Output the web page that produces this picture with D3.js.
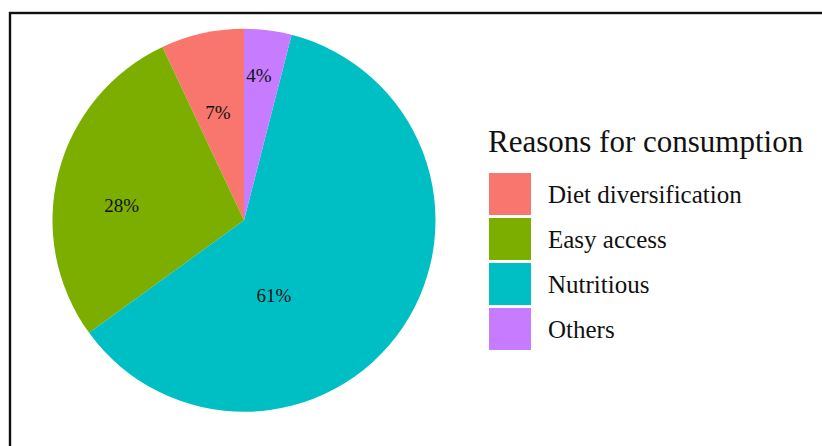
<!DOCTYPE html>
<html>
<head>
<meta charset="utf-8">
<script src="https://cdn.jsdelivr.net/npm/d3@7"></script>
<style>
  html, body { margin: 0; padding: 0; background: #fff; }
  svg { display: block; }
</style>
</head>
<body>
<svg id="chart" width="822" height="446"></svg>
<script>
// ---- data ----
const categories = ["Diet diversification", "Easy access", "Nutritious", "Others"];
const shares = [7, 28, 61, 4];
const shareLabels = ["7%", "28%", "61%", "4%"];
const legendTitle = "Reasons for consumption";
const colors = ["#F8766D", "#7CAE00", "#00BFC4", "#C77CFF"];

// ---- layout (not data) ----
const W = 822, H = 446;
const cx = 244, cy = 220.3, R = 191.5;
// label placement in polar form: angle (deg, clockwise from top), radius as fraction of R
const labelPolar = [
  { a: 346.4, f: 0.577 },
  { a: 276.7, f: 0.643 },
  { a: 158.25, f: 0.423 },
  { a: 5.93, f: 0.758 }
];
const serif = "'Liberation Serif', 'Times New Roman', serif";

const svg = d3.select("#chart");
svg.append("rect").attr("x", 0).attr("y", 0).attr("width", W).attr("height", H).attr("fill", "#fff");

// frame
svg.append("rect")
  .attr("x", 10).attr("y", 13).attr("width", 900).attr("height", 600)
  .attr("fill", "none").attr("stroke", "#111").attr("stroke-width", 2.4);

const color = d3.scaleOrdinal().domain(categories).range(colors);

const data = categories.map((c, i) => ({ cat: c, value: shares[i], label: shareLabels[i], idx: i }));

// pie: counterclockwise from top in legend order
const pie = d3.pie().sort(null).value(d => d.value).startAngle(0).endAngle(-2 * Math.PI);
const arc = d3.arc().innerRadius(0).outerRadius(R);

const g = svg.append("g").attr("transform", `translate(${cx},${cy})`);
g.selectAll("path.slice")
  .data(pie(data))
  .join("path")
  .attr("class", "slice")
  .attr("d", arc)
  .attr("fill", d => color(d.data.cat))
  .attr("stroke", "none");

// percentage labels
g.selectAll("text.pct")
  .data(data)
  .join("text")
  .attr("class", "pct")
  .attr("x", d => Math.sin(labelPolar[d.idx].a * Math.PI / 180) * labelPolar[d.idx].f * R)
  .attr("y", d => -Math.cos(labelPolar[d.idx].a * Math.PI / 180) * labelPolar[d.idx].f * R)
  .attr("dy", "0.33em")
  .attr("text-anchor", "middle")
  .attr("font-family", serif)
  .attr("font-size", 19)
  .attr("fill", "#111")
  .text(d => d.label);

// legend
const lg = svg.append("g").attr("transform", "translate(488,0)");
lg.append("text")
  .attr("x", 0).attr("y", 151.7)
  .attr("font-family", serif).attr("font-size", 31).attr("fill", "#111")
  .text(legendTitle);

const keyY = d3.scaleBand().domain(categories).range([172, 352]).paddingInner(0);
const items = lg.selectAll("g.item").data(data).join("g").attr("class", "item")
  .attr("transform", d => `translate(0,${keyY(d.cat)})`);
items.append("rect")
  .attr("x", 1).attr("y", 1)
  .attr("width", 42).attr("height", keyY.bandwidth() - 3)
  .attr("fill", d => color(d.cat));
items.append("text")
  .attr("x", 60).attr("y", keyY.bandwidth() / 2 + 8.5)
  .attr("font-family", serif).attr("font-size", 25).attr("fill", "#111")
  .text(d => d.cat);
</script>
</body>
</html>
